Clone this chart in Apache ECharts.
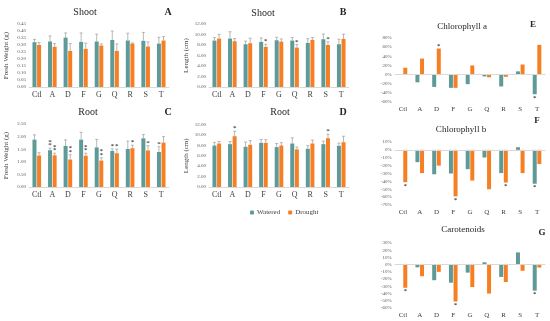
<!DOCTYPE html>
<html><head><meta charset="utf-8">
<script src="https://cdn.jsdelivr.net/npm/echarts@6/dist/echarts.min.js"></script>
<style>html,body{margin:0;padding:0;background:#fff}#c{width:550px;height:321px}</style>
</head><body><div id="c"></div>
<script>
const cats = ['Ctl','A','D','F','G','Q','R','S','T'];

// A: Shoot fresh weight (g)
const shootFW_W = [0.32,0.325,0.353,0.322,0.325,0.336,0.332,0.33,0.31];
const shootFW_D = [0.30,0.287,0.258,0.272,0.296,0.258,0.31,0.289,0.332];
const shootFW_We = [0.02,0.04,0.033,0.064,0.052,0.064,0.052,0.06,0.045];
const shootFW_De = [0.017,0.023,0.052,0.041,0.012,0.05,0.005,0.033,0.028];
const shootFW_sW = ['','','','','','','','',''];
const shootFW_sD = ['','','','','','','','',''];

// B: Shoot length (cm)
const shootL_W = [8.84,9.22,8.15,8.59,8.9,8.84,8.4,9.1,8.15];
const shootL_D = [9.22,8.72,8.34,7.64,8.65,7.5,8.97,8.0,9.16];
const shootL_We = [0.55,1.3,0.6,0.75,0.57,0.6,0.8,1.0,0.95];
const shootL_De = [0.8,0.5,0.95,0.5,0.5,0.6,0.45,0.6,0.9];
const shootL_sW = ['','','','','','','','',''];
const shootL_sD = ['','','','*','','*','','*',''];

// C: Root fresh weight (g)
const rootFW_W = [1.88,1.46,1.63,1.88,1.57,1.43,1.51,1.93,1.39];
const rootFW_D = [1.25,1.26,1.09,1.24,1.05,1.34,1.54,1.45,1.76];
const rootFW_We = [0.19,0.08,0.24,0.29,0.32,0.08,0.31,0.15,0.21];
const rootFW_De = [0.11,0.08,0.19,0.1,0.11,0.16,0.12,0.19,0.24];
const rootFW_sW = ['','**','','','','*','','','*'];
const rootFW_sD = ['','**','**','**','**','*','*','*',''];

// D: Root length (cm)
const rootL_W = [7.97,8.23,7.72,8.48,7.66,8.35,7.34,8.23,7.91];
const rootL_D = [8.35,9.75,8.1,8.48,7.97,7.22,8.35,9.37,8.6];
const rootL_We = [0.6,0.5,0.9,0.65,0.7,1.1,0.6,0.55,0.5];
const rootL_De = [0.4,0.95,0.8,0.6,0.55,0.45,0.65,0.75,1.15];
const rootL_sW = ['','','','','','','','',''];
const rootL_sD = ['','*','','','','','','*',''];

// E: Chlorophyll a (%)
const chlA_W = [0,-17,-27,-29,-21,-4,-26,7,-43];
const chlA_D = [15,35,57,-29,20,-6,-5,22,65];
const chlA_sW = ['','','','','','','','','*'];
const chlA_sD = ['','','*','','','','','',''];

// F: Chlorophyll b (%)
const chlB_W = [0,-15.6,-31,-30,-24.5,-9.7,-29.5,3.4,-43];
const chlB_D = [-41,-29.5,-20,-59,-39,-50,-41.5,-29.5,-18];
const chlB_sW = ['','','','','','','','','*'];
const chlB_sD = ['*','','','*','','','*','',''];

// G: Carotenoids (%)
const car_W = [0,-3.7,-21.5,-25,-11,3.3,-17,17,-36];
const car_D = [-32,-16,-10,-51,-31,-40,-24,-8.5,-4];
const car_sW = ['','','','','','','','','*'];
const car_sD = ['*','','','*','','','','',''];

const GREEN = '#5E9B98', ORANGE = '#F77F23';
const FONT = '"Liberation Serif", "DejaVu Serif", serif';
const BW = 4, OFF = 2.3;

const grids = [
  {left:29, top:24, width:140, height:63},
  {left:209, top:24, width:140, height:63},
  {left:29, top:124, width:140, height:63},
  {left:209, top:124.5, width:140, height:62.5},
  {left:394.6, top:38, width:150.8, height:64},
  {left:394.6, top:142, width:150.8, height:63},
  {left:394.6, top:243, width:150.8, height:65}
];

const xAxes = grids.map((g,i)=>({
  type:'category', gridIndex:i, data:cats,
  axisTick:{show:false},
  axisLine: i<4 ? {show:true, lineStyle:{color:'#d9d9d9', width:1}} : {show:false, onZero:false},
  axisLabel:{fontFamily:FONT, fontSize: i<4?8:7, color:'#404040', margin: i<4?4:4}
}));

function yAx(i, min, max, interval, fmt, name){
  return {type:'value', gridIndex:i, min, max, interval,
    splitLine:{show:false}, axisLine:{show:false}, axisTick:{show:false},
    name: name||'', nameLocation:'middle', nameGap: i<4?19:0,
    nameTextStyle:{fontFamily:FONT, fontSize:7, color:'#404040'},
    axisLabel:{fontFamily:FONT, fontSize:5, color:'#595959', margin:3, formatter:fmt}};
}
const yAxes = [
  yAx(0,0,0.45,0.05,v=>v.toFixed(2),'Fresh Weight (g)'),
  yAx(1,0,12,2,v=>v.toFixed(2),'Length (cm)'),
  yAx(2,0,2.5,0.5,v=>v.toFixed(2),'Fresh Weight (g)'),
  yAx(3,0,12,2,v=>v.toFixed(2),'Length (cm)'),
  yAx(4,-60,80,20,v=>v+'%'),
  yAx(5,-70,10,10,v=>v+'%'),
  yAx(6,-60,30,10,v=>v+'%')
];

function errSeries(gi, vals, errs, off){
  return {type:'custom', xAxisIndex:gi, yAxisIndex:gi, silent:true, z:1,
    data: vals.map((v,k)=>[k, v, errs[k]]),
    renderItem(params, api){
      const x = api.value(0), v = api.value(1), e = api.value(2);
      const p0 = api.coord([x, v]), p1 = api.coord([x, v+e]);
      const cx = p0[0] + off;
      return {type:'group', children:[
        {type:'line', shape:{x1:cx, y1:p0[1], x2:cx, y2:p1[1]}, style:{stroke:'#a6a6a6', lineWidth:0.8}},
        {type:'line', shape:{x1:cx-1.5, y1:p1[1], x2:cx+1.5, y2:p1[1]}, style:{stroke:'#a6a6a6', lineWidth:0.8}}
      ]};
    }};
}
function starSeries(gi, vals, errs, stars, off){
  return {type:'custom', xAxisIndex:gi, yAxisIndex:gi, silent:true, z:5,
    data: vals.map((v,k)=>[k, v, errs ? errs[k] : 0]),
    renderItem(params, api){
      const s = stars[params.dataIndex];
      if(!s) return null;
      const x = api.value(0), v = api.value(1), e = api.value(2);
      const neg = v < 0;
      const p = api.coord([x, neg ? v : v+e]);
      const txt = s === '**' ? '*\n*' : s;
      return {type:'text', x:p[0]+off, y: neg ? p[1]+2 : p[1]-1,
        style:{text:txt, fontSize:7, fontFamily:FONT, fill:'#000', align:'center',
               verticalAlign: neg ? 'top' : 'bottom', lineHeight:3.5}};
    }};
}
function barSeries(gi, name, vals, color, zeroLine){
  const s = {type:'bar', name, xAxisIndex:gi, yAxisIndex:gi, data:vals, barWidth:BW, barGap:'15%',
    itemStyle:{color}, z:2};
  if(zeroLine){
    s.markLine = {silent:true, symbol:'none', label:{show:false},
      lineStyle:{color:'#d9d9d9', width:1, type:'solid'}, data:[{yAxis:0}]};
  }
  return s;
}

const panels = [
  [shootFW_W, shootFW_D, shootFW_We, shootFW_De, shootFW_sW, shootFW_sD],
  [shootL_W, shootL_D, shootL_We, shootL_De, shootL_sW, shootL_sD],
  [rootFW_W, rootFW_D, rootFW_We, rootFW_De, rootFW_sW, rootFW_sD],
  [rootL_W, rootL_D, rootL_We, rootL_De, rootL_sW, rootL_sD],
  [chlA_W, chlA_D, null, null, chlA_sW, chlA_sD],
  [chlB_W, chlB_D, null, null, chlB_sW, chlB_sD],
  [car_W, car_D, null, null, car_sW, car_sD]
];

const series = [];
panels.forEach((p, gi)=>{
  const [W, D, We, De, sW, sD] = p;
  series.push(barSeries(gi, 'Watered', W, GREEN, gi>=4));
  series.push(barSeries(gi, 'Drought', D, ORANGE, false));
  if(We){
    series.push(errSeries(gi, W, We, -OFF));
    series.push(errSeries(gi, D, De, OFF));
  }
  series.push(starSeries(gi, W, We, sW, -OFF));
  series.push(starSeries(gi, D, De, sD, OFF));
});

function txt(x, y, t, size, bold){
  return {type:'text', x, y, style:{text:t, fontFamily:FONT, fontSize:size, fontWeight: bold?'bold':'normal',
    fill:'#262626', align:'center', verticalAlign:'middle'}};
}

const chart = echarts.init(document.getElementById('c'), null, {renderer:'canvas'});
chart.setOption({
  animation:false,
  grid: grids,
  xAxis: xAxes,
  yAxis: yAxes,
  legend:{show:true, data:['Watered','Drought'], left:245, top:204, itemWidth:4, itemHeight:4, itemGap:8,
    textStyle:{fontFamily:FONT, fontSize:7, color:'#404040', padding:[0,0,0,-2]}},
  graphic:[
    txt(85,12,'Shoot',10), txt(168,12,'A',10,true),
    txt(263,13,'Shoot',10), txt(343,12,'B',10,true),
    txt(88,112,'Root',10), txt(168,112,'C',10,true),
    txt(280,112,'Root',10), txt(343,112,'D',10,true),
    txt(462,27,'Chlorophyll a',9), txt(533,25,'E',9,true),
    txt(461,130,'Chlorophyll b',9), txt(537,121,'F',9,true),
    txt(463,230,'Carotenoids',9), txt(542,233,'G',9,true)
  ],
  series
});
</script></body></html>
